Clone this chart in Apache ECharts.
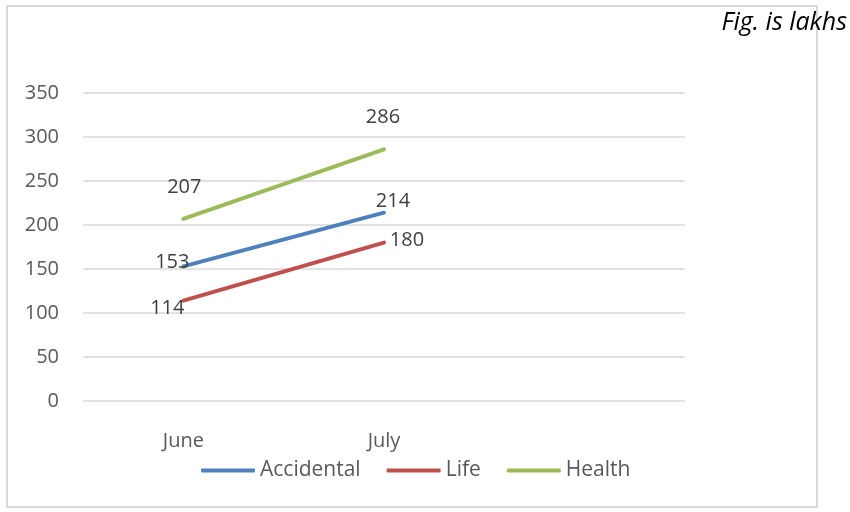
<!DOCTYPE html>
<html>
<head>
<meta charset="utf-8">
<script src="https://cdn.jsdelivr.net/npm/echarts@6/dist/echarts.min.js"></script>
<style>
html,body{margin:0;padding:0;background:#fff;}
#chart{width:850px;height:512px;}
</style>
</head>
<body>
<div id="chart"></div>
<script>
const categories = ['June', 'July', ''];
const accidental = [153, 214];
const life = [114, 180];
const health = [207, 286];
const yTicks = { min: 0, max: 350, interval: 50 };

const FONT = '"Open Sans", sans-serif';
const offsets = {
  Accidental: [[-11, -4], [9, -11]],
  Life: [[-16, 8], [23, -2]],
  Health: [[1, -32], [-1, -32]]
};

function mk(name, values, color) {
  return {
    name: name,
    type: 'line',
    data: values.map((v, i) => ({ value: v, label: { offset: offsets[name][i] } })),
    symbol: 'circle',
    symbolSize: 1,
    showSymbol: true,
    itemStyle: { color: color },
    lineStyle: { color: color, width: 4, cap: 'round' },
    label: {
      show: true,
      position: 'inside',
      color: '#404040',
      fontFamily: FONT,
      fontSize: 20
    },
    emphasis: { disabled: true },
    animation: false
  };
}

const chart = echarts.init(document.getElementById('chart'), null, { renderer: 'canvas' });
chart.setOption({
  backgroundColor: '#ffffff',
  animation: false,
  grid: { left: 83, right: 165, top: 93, bottom: 111, containLabel: false },
  legend: {
    left: 196,
    top: 455,
    itemWidth: 54,
    itemHeight: 4,
    itemGap: 26,
    icon: 'roundRect',
    textStyle: { color: '#595959', fontFamily: FONT, fontSize: 21 },
    data: ['Accidental', 'Life', 'Health']
  },
  xAxis: {
    type: 'category',
    data: categories,
    boundaryGap: true,
    axisLine: { show: false },
    axisTick: { show: false },
    axisLabel: { color: '#595959', fontFamily: FONT, fontSize: 20, margin: 30 }
  },
  yAxis: {
    type: 'value',
    min: yTicks.min,
    max: yTicks.max,
    interval: yTicks.interval,
    axisLine: { show: false },
    axisTick: { show: false },
    axisLabel: { color: '#595959', fontFamily: FONT, fontSize: 20, margin: 24 },
    splitLine: { lineStyle: { color: '#d9d9d9', width: 1.5 } }
  },
  graphic: [
    {
      type: 'rect',
      shape: { x: 7, y: 6, width: 810, height: 501 },
      style: { fill: 'none', stroke: '#d9d9d9', lineWidth: 2 },
      silent: true,
      z: -1
    },
    {
      type: 'text',
      x: 847,
      y: 23,
      style: {
        text: 'Fig. is lakhs',
        fill: '#000000',
        font: 'italic 25px "Open Sans", sans-serif',
        textAlign: 'right',
        textVerticalAlign: 'middle'
      },
      z: 10
    }
  ],
  series: [
    mk('Accidental', accidental, '#4f81bd'),
    mk('Life', life, '#c0504d'),
    mk('Health', health, '#9bbb59')
  ]
});
</script>
</body>
</html>
